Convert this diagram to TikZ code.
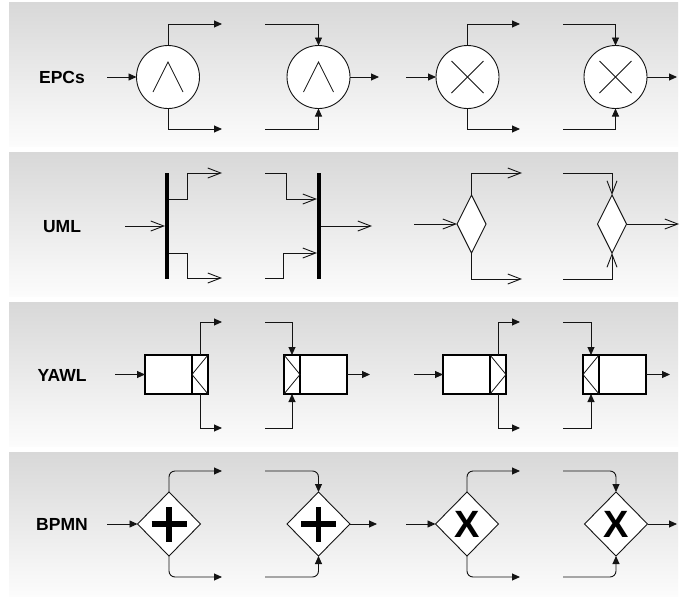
\documentclass[tikz,border=0pt]{standalone}
\usepackage{fontspec}
\setmainfont{Liberation Sans}
\usetikzlibrary{arrows.meta,shapes.geometric}
\definecolor{bgtop}{RGB}{216,216,216}
\definecolor{bgbot}{RGB}{252,252,252}
\definecolor{ink}{RGB}{20,20,20}
\begin{document}
\begin{tikzpicture}[x=1pt,y=-1pt,
 ln/.style={line width=0.9pt,draw=ink},
 arr/.style={ln,-{Triangle[length=8pt,width=7pt]}},
 oarr/.style={ln,-{Straight Barb[length=13pt,width=10pt]}},
 lab/.style={font=\fontsize{17.5}{20}\selectfont\bfseries},
 gcirc/.style={circle,draw,fill=white,ln,minimum size=63pt,inner sep=0pt,outer sep=0pt},
 barnode/.style={rectangle,fill=black,minimum width=4pt,minimum height=106pt,inner sep=0pt,outer sep=0pt},
 udia/.style={diamond,draw,fill=white,ln,minimum width=29pt,minimum height=58pt,inner sep=0pt,outer sep=0pt},
 task/.style={rectangle,draw=black,fill=white,line width=1.8pt,minimum width=47pt,minimum height=39pt,inner sep=0pt,outer sep=0pt},
 deco/.style={rectangle,draw=black,fill=white,line width=1.8pt,minimum width=16pt,minimum height=39pt,inner sep=0pt,outer sep=0pt},
 bdia/.style={diamond,draw,fill=white,ln,minimum width=63pt,minimum height=64pt,inner sep=0pt,outer sep=0pt,font=\fontsize{38}{40}\selectfont\bfseries},
 sym/.style={line width=0.8pt,draw=ink},
 ]
\useasboundingbox (0,0) rectangle (681,598);
\fill[white] (0,0) rectangle (681,598);
\shade[top color=bgtop,bottom color=bgbot] (9,2) rectangle (678,146);
\shade[top color=bgtop,bottom color=bgbot] (9,152) rectangle (678,296);
\shade[top color=bgtop,bottom color=bgbot] (9,302) rectangle (678,446);
\shade[top color=bgtop,bottom color=bgbot] (9,452) rectangle (678,596);

% ---------- EPCs ----------
\node[lab] (l1) at (62,77) {EPCs};
\node[gcirc] (e1) at (168,77) {};
\node[gcirc] (e2) at (318.5,77) {};
\node[gcirc] (e3) at (467.5,77) {};
\node[gcirc] (e4) at (615.5,77) {};
\coordinate (e1in) at (107,77);
\coordinate (e1t) at (222,24);
\coordinate (e1b) at (222,129);
\coordinate (e2t) at (265,24);
\coordinate (e2b) at (265,129);
\coordinate (e2o) at (379,77);
\coordinate (e3in) at (406,77);
\coordinate (e3t) at (520,24);
\coordinate (e3b) at (520,129);
\coordinate (e4t) at (563,24);
\coordinate (e4b) at (563,129);
\coordinate (e4o) at (677,77);
\draw[arr] (e1in) -- (e1.west);
\draw[arr] (e1.north) |- (e1t);
\draw[arr] (e1.south) |- (e1b);
\draw[arr] (e2t) -| (e2.north);
\draw[arr] (e2b) -| (e2.south);
\draw[arr] (e2.east) -- (e2o);
\draw[arr] (e3in) -- (e3.west);
\draw[arr] (e3.north) |- (e3t);
\draw[arr] (e3.south) |- (e3b);
\draw[arr] (e4t) -| (e4.north);
\draw[arr] (e4b) -| (e4.south);
\draw[arr] (e4.east) -- (e4o);
\foreach \n in {e1,e2}{
  \draw[sym] ([shift={(-15,15)}]\n.center) -- ([shift={(0,-15)}]\n.center) -- ([shift={(15,15)}]\n.center);
}
\foreach \n in {e3,e4}{
  \draw[sym] ([shift={(-16,-16)}]\n.center) -- ([shift={(16,16)}]\n.center);
  \draw[sym] ([shift={(-16,16)}]\n.center) -- ([shift={(16,-16)}]\n.center);
}

% ---------- UML ----------
\node[lab] (l2) at (62,227) {UML};
\node[barnode] (b1) at (167,226) {};
\node[barnode] (b2) at (319,226) {};
\node[udia] (u3) at (471.5,224) {};
\node[udia] (u4) at (612,224) {};
\coordinate (u1in) at (125,226);
\coordinate (u1t) at (222,173);
\coordinate (u1b) at (222,278);
\coordinate (u2t) at (265,173);
\coordinate (u2b) at (265,278);
\coordinate (u2o) at (372,226);
\coordinate (u3in) at (414,224);
\coordinate (u3t) at (522,173);
\coordinate (u3b) at (522,279);
\coordinate (u4t) at (563,173);
\coordinate (u4b) at (563,279);
\coordinate (u4o) at (679,224);
\draw[oarr] (u1in) -- (b1.west);
\draw[oarr] ([yshift=27pt]b1.east) -- ++(18,0) |- (u1t);
\draw[oarr] ([yshift=-27pt]b1.east) -- ++(18,0) |- (u1b);
\draw[oarr] (u2t) -- ++(21,0) |- ([yshift=27pt]b2.west);
\draw[oarr] (u2b) -- ++(18,0) |- ([yshift=-27pt]b2.west);
\draw[oarr] (b2.east) -- (u2o);
\draw[oarr] (u3in) -- (u3.west);
\draw[oarr] (u3.north) |- (u3t);
\draw[oarr] (u3.south) |- (u3b);
\draw[oarr] (u4t) -| (u4.north);
\draw[oarr] (u4b) -| (u4.south);
\draw[oarr] (u4.east) -- (u4o);

% ---------- YAWL ----------
\node[lab] (l3) at (62,375) {YAWL};
\node[task] (t1) at (168.5,374.5) {};
\node[deco] (d1) at (200,374.5) {};
\node[deco] (d2) at (292,374.5) {};
\node[task] (t2) at (323.5,374.5) {};
\node[task] (t3) at (466.5,374.5) {};
\node[deco] (d3) at (498,374.5) {};
\node[deco] (d4) at (591,374.5) {};
\node[task] (t4) at (622.5,374.5) {};
\draw[sym] (d1.north east) -- (d1.west) -- (d1.south east);
\draw[sym] (d2.north west) -- (d2.east) -- (d2.south west);
\draw[sym] (d3.north west) -- (d3.east) -- (d3.south west);
\draw[sym] (d4.north east) -- (d4.west) -- (d4.south east);
\coordinate (y1in) at (115,374.5);
\coordinate (y1t) at (222,322);
\coordinate (y1b) at (222,428);
\coordinate (y2t) at (265,322);
\coordinate (y2b) at (265,428);
\coordinate (y2o) at (370,374.5);
\coordinate (y3in) at (414,374.5);
\coordinate (y3t) at (520,322);
\coordinate (y3b) at (520,428);
\coordinate (y4t) at (563,322);
\coordinate (y4b) at (563,428);
\coordinate (y4o) at (670,374.5);
\draw[arr] (y1in) -- (t1.west);
\draw[arr] (d1.north) |- (y1t);
\draw[arr] (d1.south) |- (y1b);
\draw[arr] (y2t) -| (d2.north);
\draw[arr] (y2b) -| (d2.south);
\draw[arr] (t2.east) -- (y2o);
\draw[arr] (y3in) -- (t3.west);
\draw[arr] (d3.north) |- (y3t);
\draw[arr] (d3.south) |- (y3b);
\draw[arr] (y4t) -| (d4.north);
\draw[arr] (y4b) -| (d4.south);
\draw[arr] (t4.east) -- (y4o);

% ---------- BPMN ----------
\node[lab] (l4) at (62,524) {BPMN};
\node[bdia] (p1) at (169,524) {};
\node[bdia] (p2) at (318.5,524) {};
\node[bdia] (p3) at (467,524) {X};
\node[bdia] (p4) at (616,524) {X};
\foreach \n in {p1,p2}{
  \draw[line width=5.5pt] ([xshift=-17.5pt]\n.center) -- ([xshift=17.5pt]\n.center);
  \draw[line width=5.5pt] ([yshift=-17.5pt]\n.center) -- ([yshift=17.5pt]\n.center);
}
\coordinate (p1in) at (107,524);
\coordinate (p1t) at (222,471);
\coordinate (p1b) at (222,577);
\coordinate (p2t) at (265,471);
\coordinate (p2b) at (265,577);
\coordinate (p2o) at (377,524);
\coordinate (p3in) at (406,524);
\coordinate (p3t) at (520,471);
\coordinate (p3b) at (520,577);
\coordinate (p4t) at (563,471);
\coordinate (p4b) at (563,577);
\coordinate (p4o) at (677,524);
\draw[arr] (p1in) -- (p1.west);
\draw[arr,rounded corners=6pt] (p1.north) |- (p1t);
\draw[arr,rounded corners=6pt] (p1.south) |- (p1b);
\draw[arr,rounded corners=6pt] (p2t) -| (p2.north);
\draw[arr,rounded corners=6pt] (p2b) -| (p2.south);
\draw[arr] (p2.east) -- (p2o);
\draw[arr] (p3in) -- (p3.west);
\draw[arr,rounded corners=6pt] (p3.north) |- (p3t);
\draw[arr,rounded corners=6pt] (p3.south) |- (p3b);
\draw[arr,rounded corners=6pt] (p4t) -| (p4.north);
\draw[arr,rounded corners=6pt] (p4b) -| (p4.south);
\draw[arr] (p4.east) -- (p4o);
\end{tikzpicture}
\end{document}
